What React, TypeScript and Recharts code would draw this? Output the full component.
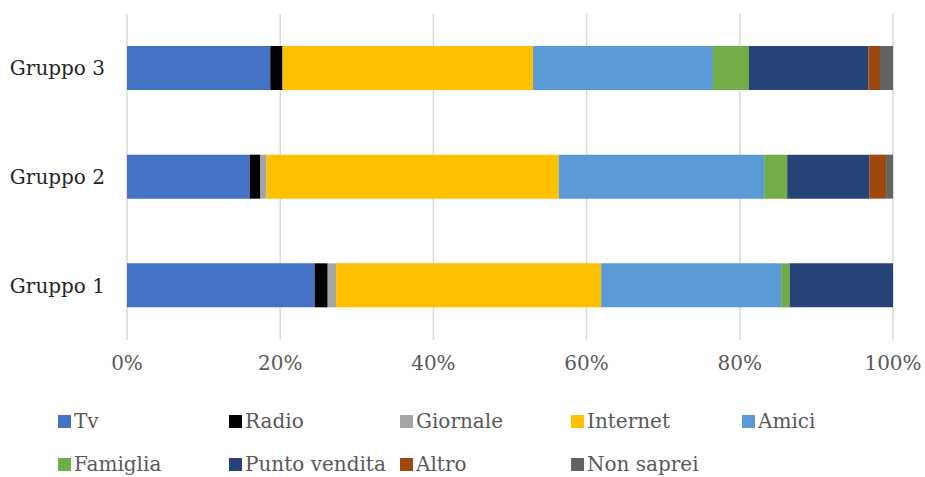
import { BarChart, Bar, XAxis, YAxis, CartesianGrid, Legend } from 'recharts';

const groups = ['Gruppo 3', 'Gruppo 2', 'Gruppo 1'];

const tv = [18.7, 16.0, 24.5];
const radio = [1.6, 1.4, 1.7];
const giornale = [0, 0.8, 1.1];
const internet = [32.7, 38.1, 34.6];
const amici = [23.5, 26.8, 23.5];
const famiglia = [4.7, 3.0, 1.1];
const puntoVendita = [15.6, 10.7, 13.5];
const altro = [1.5, 2.2, 0];
const nonSaprei = [1.7, 0.9, 0];

const xTicks = [0, 0.2, 0.4, 0.6, 0.8, 1];

const series = [
  { key: 'Tv', values: tv, color: '#4472C4' },
  { key: 'Radio', values: radio, color: '#000000' },
  { key: 'Giornale', values: giornale, color: '#A5A5A5' },
  { key: 'Internet', values: internet, color: '#FFC000' },
  { key: 'Amici', values: amici, color: '#5B9BD5' },
  { key: 'Famiglia', values: famiglia, color: '#70AD47' },
  { key: 'Punto vendita', values: puntoVendita, color: '#264478' },
  { key: 'Altro', values: altro, color: '#9E480E' },
  { key: 'Non saprei', values: nonSaprei, color: '#636363' },
];

const data = groups.map((g, i) => {
  const row: any = { name: g };
  series.forEach((s) => (row[s.key] = s.values[i]));
  return row;
});

const font = 'DejaVu Serif';

function LegendBox() {
  return (
    <div style={{ display: 'grid', gridTemplateColumns: 'repeat(5, 171px)', rowGap: 17, paddingLeft: 58, fontFamily: font, fontSize: 20, color: '#595959' }}>
      {series.map((s) => (
        <div key={s.key} style={{ display: 'flex', alignItems: 'center', height: 26, whiteSpace: 'nowrap' }}>
          <span style={{ width: 13, height: 13, background: s.color, display: 'inline-block', marginRight: 3 }} />
          {s.key}
        </div>
      ))}
    </div>
  );
}

export default function App() {
  return (
    <div style={{ position: 'absolute', left: 0, top: 0, width: 925, height: 477, background: '#fff' }}>
      <BarChart
        width={925}
        height={477}
        data={data}
        layout="vertical"
        stackOffset="expand"
        margin={{ top: 14, right: 32, bottom: 80, left: 0 }}
      >
        <CartesianGrid horizontal={false} stroke="#D9D9D9" strokeWidth={1.5} />
        <XAxis
          type="number"
          domain={[0, 1]}
          ticks={xTicks}
          tickFormatter={(v: number) => `${Math.round(v * 100)}%`}
          axisLine={false}
          tickLine={false}
          tickSize={0}
          tickMargin={16}
          height={57}
          tick={{ fill: '#595959', fontSize: 20, fontFamily: font }}
        />
        <YAxis
          type="category"
          dataKey="name"
          width={127}
          axisLine={false}
          tickLine={false}
          tickSize={0}
          tickMargin={22}
          tick={{ fill: '#262626', fontSize: 20, fontFamily: font }}
        />
        {series.map((s) => (
          <Bar key={s.key} dataKey={s.key} stackId="a" fill={s.color} barSize={44} isAnimationActive={false} />
        ))}
        <Legend
          layout="horizontal"
          verticalAlign="middle"
          align="center"
          wrapperStyle={{ left: 0, top: 408, width: 925 }}
          content={() => <LegendBox />}
        />
      </BarChart>
    </div>
  );
}
